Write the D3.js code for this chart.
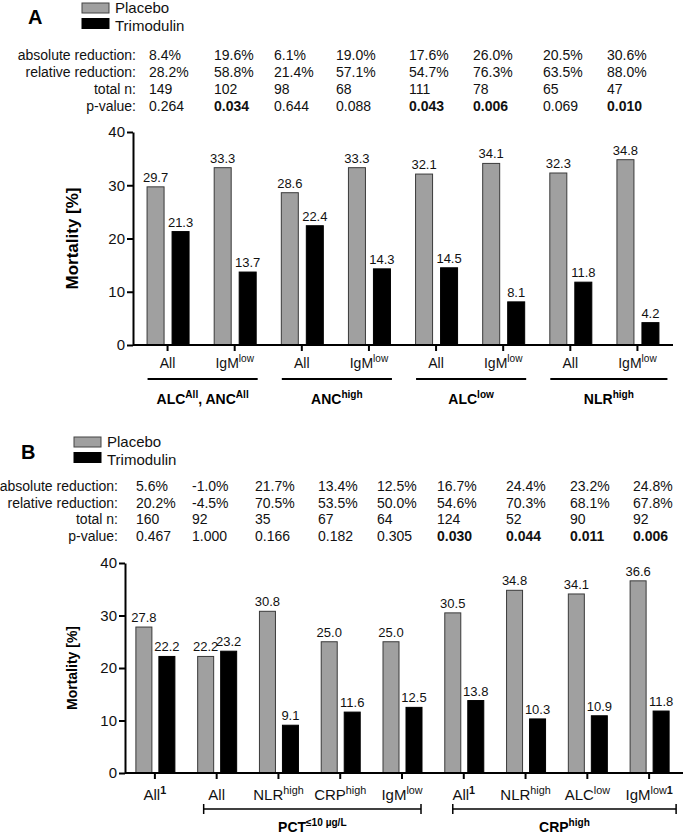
<!DOCTYPE html>
<html><head><meta charset="utf-8">
<script src="https://cdn.jsdelivr.net/npm/d3@7"></script>
<style>body{margin:0;background:#fff}svg{display:block;font-family:"Liberation Sans",Arial,sans-serif}</style>
</head><body><svg id="c" width="685" height="836"></svg>
<script>
// ---------- DATA ----------
const seriesNames = ["Placebo", "Trimodulin"];
const rowLabels = ["absolute reduction:", "relative reduction:", "total n:", "p-value:"];

// Panel A
const catsA = ["All", "IgM{low}", "All", "IgM{low}", "All", "IgM{low}", "All", "IgM{low}"];
const placeboA = [29.7, 33.3, 28.6, 33.3, 32.1, 34.1, 32.3, 34.8];
const trimoA = [21.3, 13.7, 22.4, 14.3, 14.5, 8.1, 11.8, 4.2];
const groupsA = [
  {label: "ALC{All}, ANC{All}", from: 0, to: 1},
  {label: "ANC{high}", from: 2, to: 3},
  {label: "ALC{low}", from: 4, to: 5},
  {label: "NLR{high}", from: 6, to: 7}
];
const absRedA = ["8.4%", "19.6%", "6.1%", "19.0%", "17.6%", "26.0%", "20.5%", "30.6%"];
const relRedA = ["28.2%", "58.8%", "21.4%", "57.1%", "54.7%", "76.3%", "63.5%", "88.0%"];
const totalNA = ["149", "102", "98", "68", "111", "78", "65", "47"];
const pValA = ["0.264", "0.034", "0.644", "0.088", "0.043", "0.006", "0.069", "0.010"];
const pBoldA = [false, true, false, false, true, true, false, true];

// Panel B
const catsB = ["All{1}", "All", "NLR{high}", "CRP{high}", "IgM{low}", "All{1}", "NLR{high}", "ALC{low}", "IgM{low}{1}"];
const placeboB = [27.8, 22.2, 30.8, 25.0, 25.0, 30.5, 34.8, 34.1, 36.6];
const trimoB = [22.2, 23.2, 9.1, 11.6, 12.5, 13.8, 10.3, 10.9, 11.8];
const groupsB = [
  {label: "PCT{≤10 µg/L}", from: 1, to: 4},
  {label: "CRP{high}", from: 5, to: 8}
];
const absRedB = ["5.6%", "-1.0%", "21.7%", "13.4%", "12.5%", "16.7%", "24.4%", "23.2%", "24.8%"];
const relRedB = ["20.2%", "-4.5%", "70.5%", "53.5%", "50.0%", "54.6%", "70.3%", "68.1%", "67.8%"];
const totalNB = ["160", "92", "35", "67", "64", "124", "52", "90", "92"];
const pValB = ["0.467", "1.000", "0.166", "0.182", "0.305", "0.030", "0.044", "0.011", "0.006"];
const pBoldB = [false, false, false, false, false, true, true, true, true];

const yTicks = [0, 10, 20, 30, 40];
const yDomain = [0, 40];

// ---------- STYLE / LAYOUT ----------
const colors = {Placebo: "#a0a0a0", Trimodulin: "#000000"};
const svg = d3.select("#c");

function rich(sel, str, fs, bold) {
  const parts = str.split(/(\{[^}]*\})/).filter(s => s.length);
  let prevSup = false;
  parts.forEach(p => {
    const isSup = p.startsWith("{");
    const txt = isSup ? p.slice(1, -1) : p;
    const ts = sel.append("tspan").text(txt);
    if (isSup) {
      ts.attr("font-size", fs * 0.72);
      if (!prevSup) ts.attr("dy", -fs * 0.42);
      if (/^\d+$/.test(txt)) ts.attr("font-weight", "bold");
    } else {
      ts.attr("font-size", fs);
      if (prevSup) ts.attr("dy", fs * 0.42);
    }
    prevSup = isSup;
  });
  if (bold) sel.attr("font-weight", "bold");
}

function panel(cfg) {
  const g = svg.append("g");
  // panel letter
  g.append("text").attr("x", cfg.letterX).attr("y", cfg.letterY).attr("font-size", 20)
    .attr("font-weight", "bold").text(cfg.letter);
  // legend
  seriesNames.forEach((s, i) => {
    g.append("rect").attr("x", cfg.legX).attr("y", cfg.legY + i * 15.5).attr("width", 27).attr("height", 10)
      .attr("fill", colors[s]).attr("stroke", s === "Placebo" ? "#444" : "#000").attr("stroke-width", 1);
    g.append("text").attr("x", cfg.legX + 33).attr("y", cfg.legY + 10 + i * 15.5 + (i ? 2 : 0))
      .attr("font-size", 15).attr("fill", "#111").text(s);
  });
  // table
  const rows = [cfg.abs, cfg.rel, cfg.n, cfg.p];
  rowLabels.forEach((lab, r) => {
    const y = cfg.tableY + r * cfg.rowH;
    g.append("text").attr("x", cfg.labelX).attr("y", y).attr("text-anchor", "end")
      .attr("font-size", 14).attr("fill", "#111").text(lab);
    rows[r].forEach((v, c) => {
      g.append("text").attr("x", cfg.colX[c]).attr("y", y).attr("font-size", 14).attr("fill", "#111")
        .attr("font-weight", r === 3 && cfg.pBold[c] ? "bold" : null).text(v);
    });
  });
  // scales
  const x = d3.scaleBand().domain(d3.range(cfg.cats.length)).range(cfg.xRange);
  const y = d3.scaleLinear().domain(yDomain).range([cfg.y0, cfg.y40]);
  // bars
  const data = cfg.cats.map((c, i) => ({i, p: cfg.placebo[i], t: cfg.trimo[i]}));
  const cx = i => x(i) + x.bandwidth() / 2;
  data.forEach(d => {
    [["p", "Placebo", cfg.offP], ["t", "Trimodulin", cfg.offT]].forEach(([k, s, off]) => {
      const bx = cx(d.i) + off - cfg.barW / 2;
      g.append("rect").attr("x", bx).attr("y", y(d[k])).attr("width", cfg.barW)
        .attr("height", y(0) - y(d[k])).attr("fill", colors[s])
        .attr("stroke", s === "Placebo" ? "#3a3a3a" : "#000").attr("stroke-width", 1);
      g.append("text").attr("x", bx + cfg.barW / 2).attr("y", y(d[k]) - 5)
        .attr("text-anchor", "middle").attr("font-size", 13).attr("fill", "#111")
        .text(d3.format(".1f")(d[k]));
    });
  });
  // y axis
  const ya = g.append("g").attr("transform", `translate(${cfg.xAxisStart},0)`)
    .call(d3.axisLeft(y).tickValues(yTicks).tickSize(6).tickPadding(2).tickSizeOuter(0));
  ya.select(".domain").attr("stroke-width", 2);
  ya.selectAll(".tick line").attr("stroke-width", 2);
  ya.selectAll(".tick text").attr("font-size", cfg.tickFs).attr("fill", "#111")
    .attr("font-family", "Liberation Sans, Arial, sans-serif");
  // x axis
  const xa = g.append("g").attr("transform", `translate(0,${cfg.y0})`)
    .call(d3.axisBottom(x).tickSize(6).tickFormat("").tickSizeOuter(0));
  xa.select(".domain").attr("stroke-width", 2).attr("d", `M${cfg.xAxisStart},0H${cfg.xAxisEnd}`);
  xa.selectAll(".tick line").attr("stroke-width", 2);
  cfg.cats.forEach((c, i) => {
    const t = g.append("text").attr("x", cx(i)).attr("y", cfg.catY).attr("text-anchor", "middle").attr("fill", "#111");
    rich(t, c, cfg.catFs, false);
  });
  // y label
  g.append("text").attr("transform", `translate(${cfg.yLabX},${(cfg.y0 + cfg.y40) / 2}) rotate(-90)`)
    .attr("text-anchor", "middle").attr("font-size", cfg.yLabFs).attr("font-weight", "bold")
    .attr("dy", "0.35em").text("Mortality [%]");
  // groups
  cfg.groups.forEach((gr, k) => {
    const x1 = cx(gr.from) - cfg.gPadL[k], x2 = cx(gr.to) + cfg.gPadR[k];
    g.append("line").attr("x1", x1).attr("x2", x2).attr("y1", cfg.gLineY).attr("y2", cfg.gLineY)
      .attr("stroke", "#000").attr("stroke-width", cfg.gLineW);
    if (cfg.caps) {
      [x1, x2].forEach(xx => g.append("line").attr("x1", xx).attr("x2", xx)
        .attr("y1", cfg.gLineY - 5).attr("y2", cfg.gLineY + 5).attr("stroke", "#000").attr("stroke-width", 1.5));
    }
    const t = g.append("text").attr("x", (x1 + x2) / 2).attr("y", cfg.gLabY).attr("text-anchor", "middle");
    rich(t, gr.label, 14, true);
  });
}

panel({
  letter: "A", letterX: 28, letterY: 24, legX: 82, legY: 3,
  abs: absRedA, rel: relRedA, n: totalNA, p: pValA, pBold: pBoldA,
  tableY: 60, rowH: 17, labelX: 136, colX: [149, 214, 274, 336, 409, 473, 543, 607],
  cats: catsA, placebo: placeboA, trimo: trimoA, groups: groupsA,
  xRange: [134, 671], xAxisStart: 133, xAxisEnd: 673, y0: 345, y40: 132,
  barW: 17, offP: -12, offT: 13, tickFs: 15, catFs: 14, catY: 368,
  yLabX: 72, yLabFs: 17, gLineY: 379, gLineW: 2, gPadL: [20, 20, 20, 20], gPadR: [23, 23, 23, 30],
  gLabY: 404, caps: false
});

panel({
  letter: "B", letterX: 21, letterY: 459, legX: 74, legY: 437,
  abs: absRedB, rel: relRedB, n: totalNB, p: pValB, pBold: pBoldB,
  tableY: 491, rowH: 16.5, labelX: 118, colX: [136, 192, 255, 318, 377, 437, 506, 570, 633],
  cats: catsB, placebo: placeboB, trimo: trimoB, groups: groupsB,
  xRange: [124, 680], xAxisStart: 125, xAxisEnd: 683, y0: 773, y40: 563,
  barW: 16, offP: -11, offT: 12, tickFs: 15, catFs: 15, catY: 800,
  yLabX: 72, yLabFs: 14, gLineY: 809, gLineW: 1.5, gPadL: [13, 11], gPadR: [19, 27],
  gLabY: 832, caps: true
});
</script></body></html>
